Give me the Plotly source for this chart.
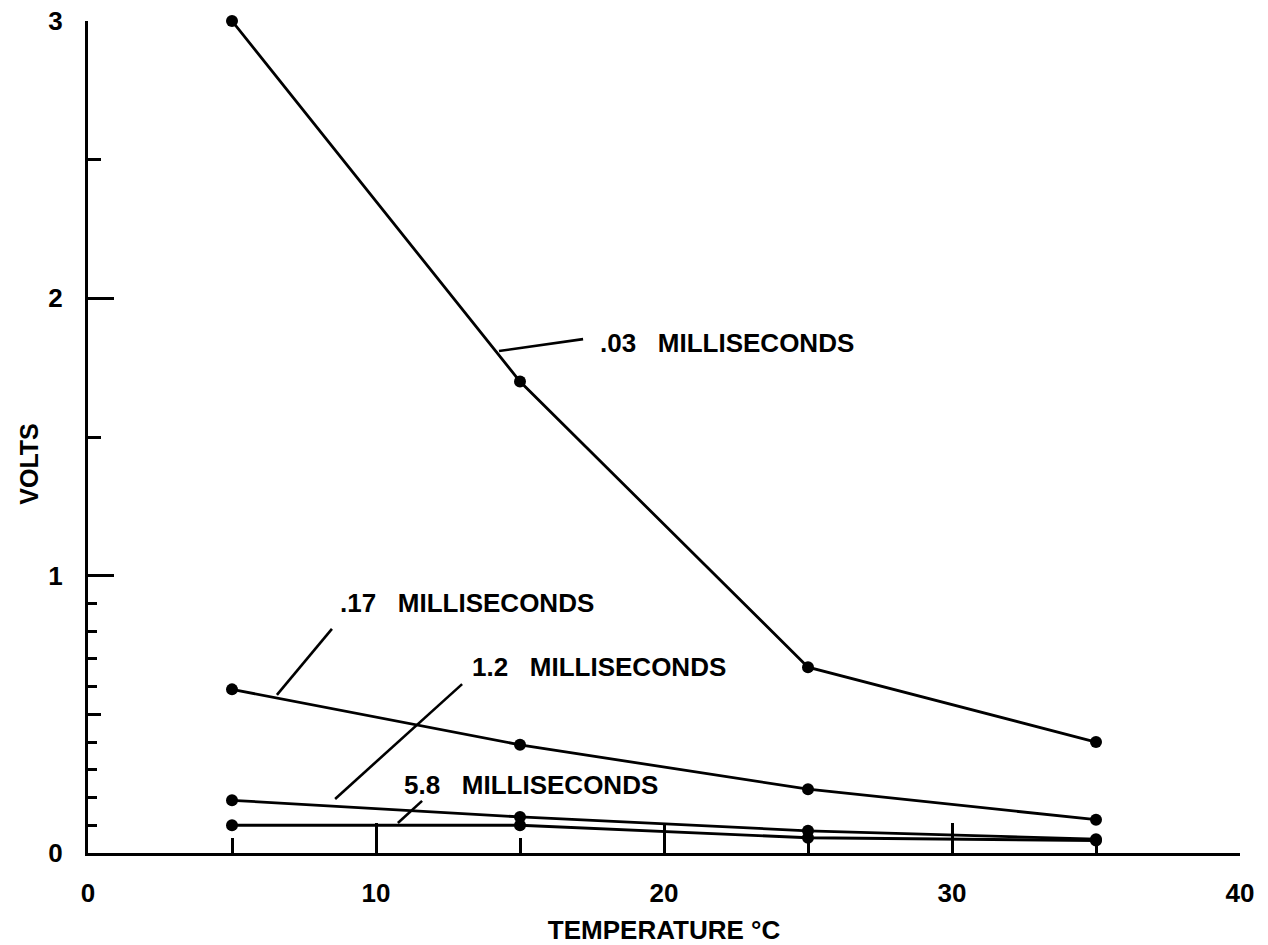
import plotly.graph_objects as go

# Measured response voltage versus temperature for four pulse durations
temps = [5, 15, 25, 35]
volts_003 = [3.0, 1.70, 0.67, 0.40]
volts_017 = [0.59, 0.39, 0.23, 0.12]
volts_12 = [0.19, 0.13, 0.08, 0.05]
volts_58 = [0.10, 0.10, 0.055, 0.045]

series = [volts_003, volts_017, volts_12, volts_58]

# Curve labels: text, label anchor (x, y), leader line start and end
label_texts = [".03\u00a0\u00a0\u00a0MILLISECONDS", ".17\u00a0\u00a0\u00a0MILLISECONDS",
               "1.2\u00a0\u00a0\u00a0MILLISECONDS", "5.8\u00a0\u00a0\u00a0MILLISECONDS"]
label_x = [17.71, 8.68, 13.26, 10.90]
label_y = [1.839, 0.901, 0.671, 0.245]
leader_x0 = [14.27, 6.56, 8.58, 10.76]
leader_y0 = [1.810, 0.570, 0.195, 0.108]
leader_x1 = [17.19, 8.47, 12.99, 11.60]
leader_y1 = [1.853, 0.808, 0.609, 0.188]

x_major = [0, 10, 20, 30, 40]
x_minor = [5, 15, 25, 35]
y_major = [0, 1, 2, 3]
y_half = [0.5, 1.5, 2.5]
y_tenth = [0.1, 0.2, 0.3, 0.4, 0.6, 0.7, 0.8, 0.9]

x_title = "TEMPERATURE \u00b0C"
y_title = "VOLTS"
y_title_at = 1.4

FONT = "Liberation Sans, Arial, sans-serif"
INK = "black"

fig = go.Figure()

for vals in series:
    fig.add_trace(go.Scatter(
        x=temps, y=vals, mode="lines+markers",
        line=dict(color=INK, width=2.8),
        marker=dict(color=INK, size=12),
        cliponaxis=False, showlegend=False, hoverinfo="skip",
    ))

# empty trace so the overlaid fine-tick axis is rendered
fig.add_trace(go.Scatter(x=[], y=[], yaxis="y2", showlegend=False))

for txt, lx, ly, x0, y0, x1, y1 in zip(label_texts, label_x, label_y,
                                       leader_x0, leader_y0, leader_x1, leader_y1):
    fig.add_annotation(x=lx, y=ly, text=txt, showarrow=False,
                       xanchor="left", yanchor="middle",
                       font=dict(family=FONT, size=26, color=INK, weight="bold"))
    fig.add_shape(type="line", x0=x0, y0=y0, x1=x1, y1=y1,
                  line=dict(color=INK, width=2.6))

# vertical axis caption, set a little below the middle of the axis
fig.add_annotation(xref="paper", yref="y", x=0, y=y_title_at, xshift=-59,
                   text=y_title, textangle=-90, showarrow=False,
                   xanchor="center", yanchor="middle",
                   font=dict(family=FONT, size=25, color=INK, weight="bold"))

fig.update_layout(
    width=1268, height=945,
    margin=dict(l=88, r=28, t=21, b=92),
    paper_bgcolor="white", plot_bgcolor="white",
    font=dict(family=FONT, color=INK),
    xaxis=dict(
        range=[0, 40], showgrid=False, zeroline=False, automargin=False,
        showline=True, linecolor=INK, linewidth=3,
        tickmode="array", tickvals=x_major, ticktext=[str(v) for v in x_major],
        ticks="inside", ticklen=30, tickwidth=2.5, tickcolor=INK,
        ticklabelstandoff=15,
        tickfont=dict(family=FONT, size=26, color=INK, weight="bold"),
        minor=dict(tickvals=x_minor, ticks="inside", ticklen=15,
                   tickwidth=2.5, tickcolor=INK, showgrid=False),
        title=dict(text=x_title, standoff=17,
                   font=dict(family=FONT, size=26, color=INK, weight="bold")),
    ),
    yaxis=dict(
        range=[0, 3], showgrid=False, zeroline=False, automargin=False,
        showline=True, linecolor=INK, linewidth=3,
        tickmode="array", tickvals=y_major, ticktext=[str(v) for v in y_major],
        ticks="inside", ticklen=26, tickwidth=2.5, tickcolor=INK,
        ticklabelstandoff=17,
        tickfont=dict(family=FONT, size=26, color=INK, weight="bold"),
        minor=dict(tickvals=y_half, ticks="inside", ticklen=13,
                   tickwidth=2.5, tickcolor=INK, showgrid=False),
    ),
    yaxis2=dict(
        range=[0, 3], overlaying="y", anchor="x", side="left", automargin=False,
        showgrid=False, zeroline=False, showline=False,
        tickmode="array", tickvals=y_tenth, showticklabels=False,
        ticks="inside", ticklen=9, tickwidth=2.5, tickcolor=INK,
    ),
)

fig.write_html("out.html")
